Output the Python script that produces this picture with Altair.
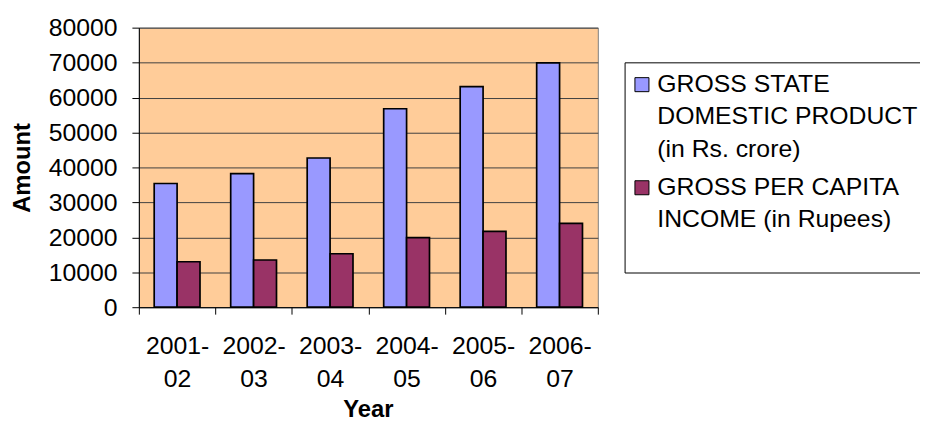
import altair as alt
import pandas as pd

years = ["2001-02", "2002-03", "2003-04", "2004-05", "2005-06", "2006-07"]
gsdp = [35400, 38200, 42700, 56800, 63100, 69900]
pci = [13000, 13500, 15300, 19900, 21700, 24000]
series = ["GROSS STATE DOMESTIC PRODUCT (in Rs. crore)", "GROSS PER CAPITA INCOME (in Rupees)"]
legend_lines = [["GROSS STATE", "DOMESTIC PRODUCT", "(in Rs. crore)"],
                ["GROSS PER CAPITA", "INCOME (in Rupees)"]]
colors = ["#9999FF", "#993366"]
y_ticks = [0, 10000, 20000, 30000, 40000, 50000, 60000, 70000, 80000]

rows = []
for i, yr in enumerate(years):
    rows.append({"Year": yr, "Series": series[0], "Amount": gsdp[i]})
    rows.append({"Year": yr, "Series": series[1], "Amount": pci[i]})
df = pd.DataFrame(rows)

FONT = "Liberation Sans"
DY = -13  # vertical shift applied to guide labels via style

def arr(lines):
    return "[" + ", ".join("'" + s + "'" for s in lines) + "]"

legend_expr = ("datum.label == '" + series[0] + "' ? " + arr(legend_lines[0]) +
               " : " + arr(legend_lines[1]))

x_label_expr = ("datum.label == '' ? '' : "
                "[split(datum.label, '-')[0] + '-', split(datum.label, '-')[1]]")

lg = dict(
    title=" ", titleOrient="bottom", titleFontSize=14, titlePadding=16,
    orient="none", legendX=490, legendY=35, direction="vertical",
    fillColor="white", strokeColor="black", padding=10,
    symbolType="square", symbolSize=200, symbolStrokeColor="black",
    symbolStrokeWidth=1, symbolOpacity=1, symbolOffset=-5,
    labelFont=FONT, labelFontSize=25, labelColor="black", labelLimit=0,
    labelOffset=3, labelExpr=legend_expr, labelBaseline="top",
    rowPadding=12,
)

chart = alt.Chart(df).mark_bar(stroke="black", strokeWidth=1.7).encode(
    x=alt.X("Year:N", sort=years,
            scale=alt.Scale(paddingInner=0, paddingOuter=0),
            axis=alt.Axis(title="Year", labelAngle=0, tickBand="extent",
                          labelExpr=x_label_expr,
                          labelFont=FONT, labelFontSize=25, labelColor="black",
                          labelLineHeight=33, labelBaseline="top",
                          labelPadding=20 - DY,
                          tickSize=7, tickColor="black", domainColor="black",
                          grid=False,
                          titleFont=FONT, titleFontSize=24, titleFontWeight="bold",
                          titleColor="black", titleBaseline="alphabetic",
                          titleX=231, titleY=110)),
    xOffset=alt.XOffset("Series:N", sort=series,
                        scale=alt.Scale(paddingInner=0, paddingOuter=0.67)),
    y=alt.Y("Amount:Q", scale=alt.Scale(domain=[0, 80000]),
            axis=alt.Axis(title="Amount", values=y_ticks, format="d",
                          labelFont=FONT, labelFontSize=25, labelColor="black",
                          labelPadding=15, labelOffset=-DY,
                          tickSize=7, tickColor="black",
                          domainColor="black", grid=True, gridColor="#404040",
                          gridWidth=1,
                          titleFont=FONT, titleFontSize=24, titleFontWeight="bold",
                          titleColor="black", titleAngle=-90, titleAlign="center",
                          titleBaseline="alphabetic", titleX=-110, titleY=141)),
    color=alt.Color("Series:N", sort=series,
                    scale=alt.Scale(domain=series, range=colors),
                    legend=alt.Legend(**lg)),
).properties(
    width=463, height=282, autosize="none",
    padding={"left": 132, "top": 18, "right": 325, "bottom": 116},
).configure(
    font=FONT,
    style={"guide-label": {"lineHeight": 33, "dy": DY}},
).configure_view(fill="#FFCC99", stroke="#808080", strokeWidth=1)

chart.save("out.html", embed_options={"renderer": "svg", "actions": False})
